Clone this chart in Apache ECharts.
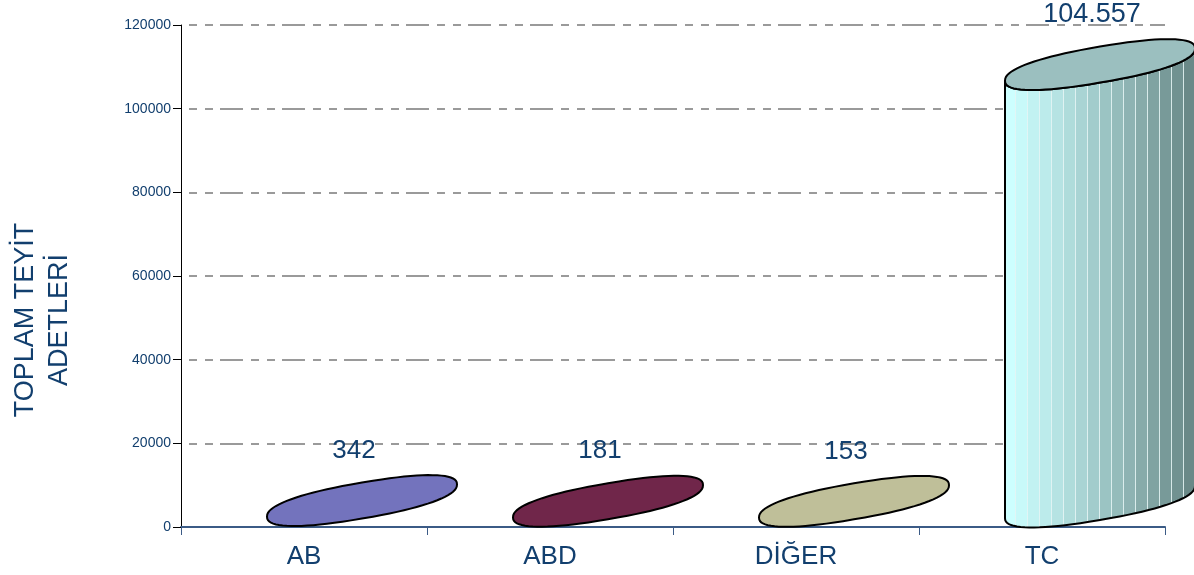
<!DOCTYPE html>
<html>
<head>
<meta charset="utf-8">
<script src="https://cdn.jsdelivr.net/npm/echarts@6/dist/echarts.min.js"></script>
<style>
html,body{margin:0;padding:0;background:#fff;}
#chart{width:1194px;height:575px;}
</style>
</head>
<body>
<div id="chart"></div>
<script>
const categories = ['AB', 'ABD', 'DİĞER', 'TC'];
const values = [342, 181, 153, 104557];
const valueLabels = ['342', '181', '153', '104.557'];
const yTicks = [0, 20000, 40000, 60000, 80000, 100000, 120000];
const topColors = ['#7373bd', '#70264a', '#bfbf99', '#9bbfbf'];
const bodyColors = [
  ['#7373bd', '#7373bd'],
  ['#70264a', '#70264a'],
  ['#bfbf99', '#bfbf99'],
  ['#cdffff', '#6a8988']
];

const FONT = '"Liberation Sans", Arial, sans-serif';
const TEXT_COLOR = '#123f6e';

function lerpColor(c1, c2, f) {
  const p = c => [1,3,5].map(i => parseInt(c.substr(i,2),16));
  const a = p(c1), b = p(c2);
  return 'rgb(' + a.map((v,i) => Math.round(v + (b[i]-v)*f)).join(',') + ')';
}
function stripeGradient(c1, c2) {
  const n = 16, stops = [];
  for (let i = 0; i < n; i++) {
    const col = lerpColor(c1, c2, Math.pow(i/(n-1), 1.1));
    stops.push({offset: i/n, color: col});
    stops.push({offset: (i+1)/n - 0.004, color: col});
    stops.push({offset: (i+1)/n - 0.003, color: i === n-1 ? col : 'rgba(230,245,245,1)'});
  }
  return {type:'linear', x:0, y:0, x2:1, y2:0, colorStops: stops};
}

const A = 95, B = 18, S = 0.17, DX = 58, DY = 25, P = 0.85;
function spow(v) { return Math.sign(v) * Math.pow(Math.abs(v), P); }
function ellPt(cx, cy, t) {
  const c = spow(Math.cos(t)), s = spow(Math.sin(t));
  return [cx + A*c, cy - B*s - S*A*c];
}

const chart = echarts.init(document.getElementById('chart'));
chart.setOption({
  animation: false,
  grid: {left: 181, right: 29, top: 25, bottom: 48},
  xAxis: {
    type: 'category',
    data: categories,
    boundaryGap: true,
    axisLine: {lineStyle: {color: '#3b5b86', width: 2}},
    axisTick: {show: true, length: 8, lineStyle: {color: '#3b5b86', width: 1}},
    axisLabel: {color: TEXT_COLOR, fontSize: 26, fontFamily: FONT, margin: 17}
  },
  yAxis: {
    type: 'value',
    min: 0, max: 120000, interval: 20000,
    axisLine: {show: true, lineStyle: {color: '#000', width: 1}},
    axisTick: {show: true, length: 8, lineStyle: {color: '#000'}},
    axisLabel: {color: TEXT_COLOR, fontSize: 14, fontFamily: FONT, margin: 10,
      formatter: v => String(v)},
    splitLine: {show: true, lineStyle: {color: '#7a7a7a', width: 1.5, type: [8,8,8,7,23,8], dashOffset: 54}}
  },
  graphic: [{
    type: 'text',
    style: {
      text: 'TOPLAM TEYİT\nADETLERİ',
      font: '27px ' + FONT,
      fill: TEXT_COLOR,
      align: 'center',
      verticalAlign: 'middle',
      lineHeight: 34
    },
    x: 43, y: 320,
    rotation: Math.PI/2
  }],
  series: [{
    type: 'custom',
    data: values.map((v, i) => [i, v]),
    clip: false,
    renderItem: function (params, api) {
      const i = api.value(0);
      const v = api.value(1);
      const top = api.coord([i, v]);
      const base = api.coord([i, 0]);
      const cx = top[0] + DX;
      const topCy = top[1] - DY;
      const botCy = base[1] - DY;
      const N = 80;
      const topPts = [];
      for (let k = 0; k <= N; k++) topPts.push(ellPt(cx, topCy, 2*Math.PI*k/N));
      const body = [];
      body.push(ellPt(cx, topCy, Math.PI));
      for (let k = 0; k <= N/2; k++) body.push(ellPt(cx, botCy, Math.PI + Math.PI*k/(N/2)));
      for (let k = 0; k <= N/2; k++) body.push(ellPt(cx, topCy, 2*Math.PI - Math.PI*k/(N/2)));
      const bc = bodyColors[i];
      const bodyFill = bc[0] === bc[1] ? bc[0] : stripeGradient(bc[0], bc[1]);
      const children = [];
      if (base[1] - top[1] > 3) {
        children.push({
          type: 'polygon',
          shape: {points: body},
          style: {fill: bodyFill, stroke: '#000', lineWidth: 2}
        });
      }
      children.push({
        type: 'polygon',
        shape: {points: topPts},
        style: {fill: topColors[i], stroke: '#000', lineWidth: 2}
      });
      children.push({
        type: 'text',
        style: {
          text: valueLabels[i],
          x: top[0] + 50,
          y: top[1] - 75,
          align: 'center',
          verticalAlign: 'middle',
          font: (i === 3 ? 27 : 26) + 'px ' + FONT,
          fill: TEXT_COLOR
        }
      });
      return {type: 'group', children: children};
    }
  }]
});
</script>
</body>
</html>
